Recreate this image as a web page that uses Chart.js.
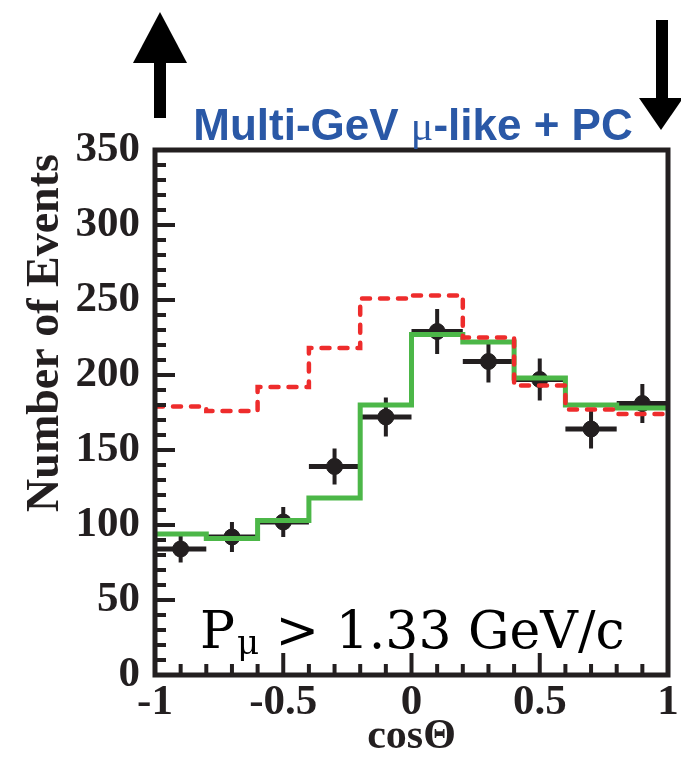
<!DOCTYPE html>
<html>
<head>
<meta charset="utf-8">
<script src="https://cdn.jsdelivr.net/npm/chart.js@4.4.0/dist/chart.umd.min.js"></script>
<style>
  html, body { margin: 0; padding: 0; background: #fff; }
  #wrap { width: 681px; height: 762px; }
</style>
</head>
<body>
<div id="wrap"><canvas id="chart"></canvas></div>
<script>
// Multi-GeV mu-like + PC zenith angle distribution
const binEdges = [-1, -0.8, -0.6, -0.4, -0.2, 0, 0.2, 0.4, 0.6, 0.8, 1];
const binCenters = [-0.9, -0.7, -0.5, -0.3, -0.1, 0.1, 0.3, 0.5, 0.7, 0.9];
const dataCounts = [84, 92, 102, 139, 172, 229, 209, 197, 164, 181];
const dataErrors = [9, 10, 10, 12, 13, 15, 14, 14, 13, 13];
const mcOscillated = [94, 91, 103, 118, 180, 227, 222, 198, 180, 178];
const mcNoOscillation = [179, 176, 192, 218, 251, 253, 225, 193, 177, 174];
const xTicks = [-1, -0.5, 0, 0.5, 1];
const yTicks = [0, 50, 100, 150, 200, 250, 300, 350];

const INK = '#231f20';
const SERIF = '"Liberation Serif", "DejaVu Serif", serif';

// histogram outline: one point per bin edge, last value repeated
function stepPoints(values) {
  return binEdges.map((x, i) => ({ x, y: values[Math.min(i, values.length - 1)] }));
}

const decorPlugin = {
  id: 'decor',
  beforeDatasetsDraw(chart) {
    const { ctx } = chart;
    const xs = chart.scales.x, ys = chart.scales.y;
    // error bars under the markers
    ctx.save();
    ctx.strokeStyle = INK;
    ctx.lineCap = 'butt';
    binCenters.forEach((c, i) => {
      const px = xs.getPixelForValue(c);
      const py = ys.getPixelForValue(dataCounts[i]);
      ctx.lineWidth = 5;
      ctx.beginPath();
      ctx.moveTo(xs.getPixelForValue(c - 0.1), py);
      ctx.lineTo(xs.getPixelForValue(c + 0.1), py);
      ctx.stroke();
      ctx.lineWidth = 4;
      ctx.beginPath();
      ctx.moveTo(px, ys.getPixelForValue(dataCounts[i] - dataErrors[i]));
      ctx.lineTo(px, ys.getPixelForValue(dataCounts[i] + dataErrors[i]));
      ctx.stroke();
    });
    ctx.restore();
  },
  afterDraw(chart) {
    const { ctx, chartArea: a } = chart;
    const xs = chart.scales.x, ys = chart.scales.y;
    ctx.save();

    // frame
    ctx.strokeStyle = INK;
    ctx.lineWidth = 5;
    ctx.strokeRect(a.left, a.top, a.right - a.left, a.bottom - a.top);

    // inward ticks
    ctx.lineWidth = 4;
    for (let v = 0; v <= 350; v += 10) {
      const py = ys.getPixelForValue(v);
      const len = v % 50 === 0 ? 20 : 11;
      ctx.beginPath();
      ctx.moveTo(a.left, py);
      ctx.lineTo(a.left + len, py);
      ctx.stroke();
    }
    for (let k = -10; k <= 10; k++) {
      const px = xs.getPixelForValue(k / 10);
      const len = k % 5 === 0 ? 22 : 11;
      ctx.beginPath();
      ctx.moveTo(px, a.bottom);
      ctx.lineTo(px, a.bottom - len);
      ctx.stroke();
    }

    // y axis title
    ctx.save();
    ctx.translate(58, 333);
    ctx.rotate(-Math.PI / 2);
    ctx.fillStyle = INK;
    ctx.font = 'bold 46px ' + SERIF;
    ctx.textAlign = 'center';
    ctx.textBaseline = 'alphabetic';
    ctx.fillText('Number of Events', 0, 0);
    ctx.restore();

    // arrows
    ctx.fillStyle = '#000';
    ctx.fillRect(154, 62, 12, 56);
    ctx.beginPath();
    ctx.moveTo(133, 63); ctx.lineTo(187, 63); ctx.lineTo(160, 12); ctx.closePath();
    ctx.fill();
    ctx.fillRect(656, 20, 12, 80);
    ctx.beginPath();
    ctx.moveTo(639, 98); ctx.lineTo(683, 98); ctx.lineTo(661, 130); ctx.closePath();
    ctx.fill();

    // title
    const parts = [
      ['Multi-GeV ', 'bold 44px "Liberation Sans", Arial, sans-serif'],
      ['\u03bc', '42px "Liberation Serif", serif'],
      ['-like + PC', 'bold 44px "Liberation Sans", Arial, sans-serif']
    ];
    let total = 0;
    parts.forEach(p => { ctx.font = p[1]; total += ctx.measureText(p[0]).width; });
    let tx = 413 - total / 2;
    ctx.fillStyle = '#2a58a6';
    ctx.textAlign = 'left';
    ctx.textBaseline = 'alphabetic';
    parts.forEach(p => {
      ctx.font = p[1];
      ctx.fillText(p[0], tx, 140);
      tx += ctx.measureText(p[0]).width;
    });

    // momentum cut label
    const LBL = '"DejaVu Serif", "Liberation Serif", serif';
    ctx.fillStyle = '#000';
    ctx.font = '52px ' + LBL;
    let lx = 200;
    ctx.fillText('P', lx, 648);
    lx += ctx.measureText('P').width + 2;
    ctx.font = '34px ' + LBL;
    ctx.fillText('\u03bc', lx, 654);
    lx += ctx.measureText('\u03bc').width;
    ctx.font = '52px ' + LBL;
    ctx.fillText(' > 1.33 GeV/c', lx, 648);

    ctx.restore();
  }
};

new Chart(document.getElementById('chart'), {
  type: 'scatter',
  data: {
    datasets: [
      {
        type: 'line',
        label: 'No oscillation',
        data: stepPoints(mcNoOscillation),
        stepped: true,
        borderColor: '#ee2c2c',
        borderWidth: 4.5,
        borderDash: [8, 10],
        borderCapStyle: 'round',
        pointRadius: 0,
        fill: false
      },
      {
        type: 'line',
        label: 'Oscillation',
        data: stepPoints(mcOscillated),
        stepped: true,
        borderColor: '#4cb748',
        borderWidth: 5,
        pointRadius: 0,
        fill: false
      },
      {
        label: 'Data',
        data: binCenters.map((x, i) => ({ x, y: dataCounts[i] })),
        backgroundColor: INK,
        borderColor: INK,
        pointRadius: 8,
        pointHoverRadius: 8
      }
    ]
  },
  options: {
    responsive: true,
    maintainAspectRatio: false,
    animation: false,
    events: [],
    layout: { padding: { top: 150, right: 13, left: 0, bottom: 0 } },
    plugins: {
      legend: { display: false },
      tooltip: { enabled: false }
    },
    scales: {
      x: {
        type: 'linear',
        min: -1,
        max: 1,
        afterBuildTicks: s => { s.ticks = xTicks.map(v => ({ value: v })); },
        afterFit: s => { s.height = 87; },
        grid: { display: false, drawTicks: false },
        border: { display: false },
        ticks: {
          color: INK,
          padding: 2,
          maxRotation: 0,
          font: { family: SERIF, size: 43, weight: 'bold' },
          callback: v => String(v)
        },
        title: {
          display: true,
          text: 'cos\u0398',
          color: INK,
          padding: { top: 0, bottom: 0 },
          font: { family: SERIF, size: 42, weight: 'bold' }
        }
      },
      y: {
        min: 0,
        max: 350,
        afterBuildTicks: s => { s.ticks = yTicks.map(v => ({ value: v })); },
        afterFit: s => { s.width = 155; },
        grid: { display: false, drawTicks: false },
        border: { display: false },
        ticks: {
          color: INK,
          padding: 15,
          font: { family: SERIF, size: 43, weight: 'bold' }
        }
      }
    }
  },
  plugins: [decorPlugin]
});
</script>
</body>
</html>
